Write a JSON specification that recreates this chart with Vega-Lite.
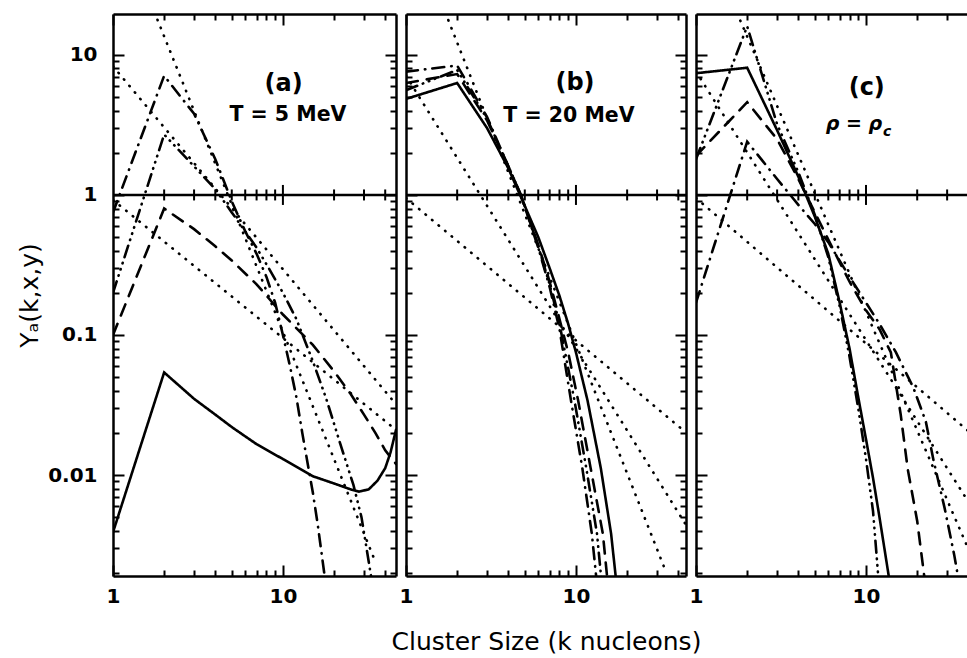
{
  "$schema": "https://vega.github.io/schema/vega-lite/v6.json",
  "background": "white",
  "padding": {"left": 17, "top": 13, "right": 0, "bottom": 0},
  "spacing": 10,
  "bounds": "flush",
  "align": "none",
  "config": {"view": {"stroke": null}, "axis": {"grid": false}},
  "datasets": {
    "one": [{"v": 1}],
    "mid": [{"k": 2, "m": 0}, {"k": 3, "m": 0}, {"k": 4, "m": 0}, {"k": 5, "m": 0}, {"k": 6, "m": 0}, {"k": 7, "m": 0}, {"k": 8, "m": 0}, {"k": 9, "m": 0}, {"k": 10, "m": 1}, {"k": 20, "m": 0}, {"k": 30, "m": 0}, {"k": 40, "m": 0}],
    "a": [
      {"s": "solid", "k": 1, "y": 0.0039}, {"s": "solid", "k": 2, "y": 0.054}, {"s": "solid", "k": 3, "y": 0.035}, {"s": "solid", "k": 4, "y": 0.027}, {"s": "solid", "k": 5, "y": 0.022}, {"s": "solid", "k": 7, "y": 0.0166}, {"s": "solid", "k": 10, "y": 0.013}, {"s": "solid", "k": 15, "y": 0.0098}, {"s": "solid", "k": 20, "y": 0.0087}, {"s": "solid", "k": 25, "y": 0.0079}, {"s": "solid", "k": 28, "y": 0.0076}, {"s": "solid", "k": 32, "y": 0.0079}, {"s": "solid", "k": 36, "y": 0.0091}, {"s": "solid", "k": 40, "y": 0.0112}, {"s": "solid", "k": 43, "y": 0.0145}, {"s": "solid", "k": 46.3, "y": 0.021},
      {"s": "dashed", "k": 1, "y": 0.1}, {"s": "dashed", "k": 2, "y": 0.8}, {"s": "dashed", "k": 3, "y": 0.57}, {"s": "dashed", "k": 4, "y": 0.43}, {"s": "dashed", "k": 5, "y": 0.34}, {"s": "dashed", "k": 7, "y": 0.23}, {"s": "dashed", "k": 10, "y": 0.14}, {"s": "dashed", "k": 15, "y": 0.085}, {"s": "dashed", "k": 20, "y": 0.055}, {"s": "dashed", "k": 25, "y": 0.038}, {"s": "dashed", "k": 30, "y": 0.027}, {"s": "dashed", "k": 35, "y": 0.02}, {"s": "dashed", "k": 40, "y": 0.015}, {"s": "dashed", "k": 46.3, "y": 0.012},
      {"s": "dashdot", "k": 1, "y": 0.75}, {"s": "dashdot", "k": 2, "y": 7.1}, {"s": "dashdot", "k": 3, "y": 3.8}, {"s": "dashdot", "k": 4, "y": 1.8}, {"s": "dashdot", "k": 5, "y": 0.9}, {"s": "dashdot", "k": 6, "y": 0.55}, {"s": "dashdot", "k": 7, "y": 0.38}, {"s": "dashdot", "k": 8, "y": 0.26}, {"s": "dashdot", "k": 9, "y": 0.17}, {"s": "dashdot", "k": 10, "y": 0.1}, {"s": "dashdot", "k": 11, "y": 0.06}, {"s": "dashdot", "k": 12, "y": 0.036}, {"s": "dashdot", "k": 13, "y": 0.02}, {"s": "dashdot", "k": 14, "y": 0.012}, {"s": "dashdot", "k": 15, "y": 0.0075}, {"s": "dashdot", "k": 16, "y": 0.0045}, {"s": "dashdot", "k": 17, "y": 0.0026}, {"s": "dashdot", "k": 17.6, "y": 0.0019},
      {"s": "dashdotdot", "k": 1, "y": 0.2}, {"s": "dashdotdot", "k": 2, "y": 2.7}, {"s": "dashdotdot", "k": 3, "y": 1.6}, {"s": "dashdotdot", "k": 4, "y": 1.1}, {"s": "dashdotdot", "k": 5, "y": 0.75}, {"s": "dashdotdot", "k": 6, "y": 0.55}, {"s": "dashdotdot", "k": 7, "y": 0.42}, {"s": "dashdotdot", "k": 8, "y": 0.32}, {"s": "dashdotdot", "k": 10, "y": 0.2}, {"s": "dashdotdot", "k": 12, "y": 0.13}, {"s": "dashdotdot", "k": 15, "y": 0.065}, {"s": "dashdotdot", "k": 18, "y": 0.035}, {"s": "dashdotdot", "k": 22, "y": 0.016}, {"s": "dashdotdot", "k": 26, "y": 0.0085}, {"s": "dashdotdot", "k": 29, "y": 0.005}, {"s": "dashdotdot", "k": 32, "y": 0.0024}, {"s": "dashdotdot", "k": 33, "y": 0.0019},
      {"s": "dot1", "k": 1.75, "y": 20.3}, {"s": "dot1", "k": 35, "y": 0.0024},
      {"s": "dot2", "k": 1, "y": 8.3}, {"s": "dot2", "k": 46.3, "y": 0.032},
      {"s": "dot3", "k": 1, "y": 0.92}, {"s": "dot3", "k": 46.3, "y": 0.021}
    ],
    "b": [
      {"s": "solid", "k": 1, "y": 4.85}, {"s": "solid", "k": 2, "y": 6.3}, {"s": "solid", "k": 3, "y": 3.0}, {"s": "solid", "k": 4, "y": 1.55}, {"s": "solid", "k": 4.74, "y": 0.97}, {"s": "solid", "k": 6, "y": 0.5}, {"s": "solid", "k": 7, "y": 0.3}, {"s": "solid", "k": 8, "y": 0.19}, {"s": "solid", "k": 9, "y": 0.12}, {"s": "solid", "k": 10, "y": 0.075}, {"s": "solid", "k": 11.7, "y": 0.034}, {"s": "solid", "k": 14, "y": 0.0112}, {"s": "solid", "k": 16.1, "y": 0.0038}, {"s": "solid", "k": 17.2, "y": 0.0018},
      {"s": "dashed", "k": 1, "y": 6.3}, {"s": "dashed", "k": 2, "y": 7.3}, {"s": "dashed", "k": 3, "y": 3.4}, {"s": "dashed", "k": 4, "y": 1.6}, {"s": "dashed", "k": 4.74, "y": 1.0}, {"s": "dashed", "k": 6, "y": 0.44}, {"s": "dashed", "k": 7, "y": 0.24}, {"s": "dashed", "k": 8, "y": 0.13}, {"s": "dashed", "k": 9, "y": 0.075}, {"s": "dashed", "k": 10.3, "y": 0.034}, {"s": "dashed", "k": 12.2, "y": 0.0112}, {"s": "dashed", "k": 14.4, "y": 0.0038}, {"s": "dashed", "k": 15.3, "y": 0.0018},
      {"s": "dashdot", "k": 1, "y": 7.6}, {"s": "dashdot", "k": 2, "y": 8.4}, {"s": "dashdot", "k": 3, "y": 3.6}, {"s": "dashdot", "k": 4, "y": 1.6}, {"s": "dashdot", "k": 4.74, "y": 1.0}, {"s": "dashdot", "k": 6, "y": 0.42}, {"s": "dashdot", "k": 7, "y": 0.22}, {"s": "dashdot", "k": 8, "y": 0.11}, {"s": "dashdot", "k": 9.35, "y": 0.034}, {"s": "dashdot", "k": 10.9, "y": 0.0112}, {"s": "dashdot", "k": 12.4, "y": 0.0038}, {"s": "dashdot", "k": 13.2, "y": 0.0018},
      {"s": "dashdotdot", "k": 1, "y": 5.6}, {"s": "dashdotdot", "k": 2, "y": 7.8}, {"s": "dashdotdot", "k": 3, "y": 3.5}, {"s": "dashdotdot", "k": 4, "y": 1.6}, {"s": "dashdotdot", "k": 4.74, "y": 1.0}, {"s": "dashdotdot", "k": 6, "y": 0.43}, {"s": "dashdotdot", "k": 7, "y": 0.23}, {"s": "dashdotdot", "k": 8, "y": 0.12}, {"s": "dashdotdot", "k": 9.8, "y": 0.034}, {"s": "dashdotdot", "k": 11.5, "y": 0.0112}, {"s": "dashdotdot", "k": 13.3, "y": 0.0038}, {"s": "dashdotdot", "k": 14.1, "y": 0.0018},
      {"s": "dot1", "k": 1, "y": 0.95}, {"s": "dot1", "k": 44.4, "y": 0.0201},
      {"s": "dot2", "k": 1, "y": 7.1}, {"s": "dot2", "k": 44.4, "y": 0.0044},
      {"s": "dot3", "k": 1.7, "y": 20.2}, {"s": "dot3", "k": 33, "y": 0.0022}
    ],
    "c": [
      {"s": "solid", "k": 1, "y": 7.4}, {"s": "solid", "k": 2, "y": 8.1}, {"s": "solid", "k": 3, "y": 2.9}, {"s": "solid", "k": 4, "y": 1.35}, {"s": "solid", "k": 5, "y": 0.7}, {"s": "solid", "k": 6, "y": 0.38}, {"s": "solid", "k": 7, "y": 0.17}, {"s": "solid", "k": 8, "y": 0.08}, {"s": "solid", "k": 9, "y": 0.036}, {"s": "solid", "k": 10, "y": 0.018}, {"s": "solid", "k": 11, "y": 0.0095}, {"s": "solid", "k": 12, "y": 0.005}, {"s": "solid", "k": 13, "y": 0.0027}, {"s": "solid", "k": 13.8, "y": 0.0017},
      {"s": "dashdotdot", "k": 1, "y": 1.8}, {"s": "dashdotdot", "k": 2, "y": 16}, {"s": "dashdotdot", "k": 3, "y": 3.2}, {"s": "dashdotdot", "k": 4, "y": 1.45}, {"s": "dashdotdot", "k": 5, "y": 0.72}, {"s": "dashdotdot", "k": 6, "y": 0.36}, {"s": "dashdotdot", "k": 7, "y": 0.16}, {"s": "dashdotdot", "k": 8, "y": 0.07}, {"s": "dashdotdot", "k": 9, "y": 0.03}, {"s": "dashdotdot", "k": 10, "y": 0.013}, {"s": "dashdotdot", "k": 11, "y": 0.0055}, {"s": "dashdotdot", "k": 11.8, "y": 0.0019},
      {"s": "dashed", "k": 1, "y": 1.9}, {"s": "dashed", "k": 2, "y": 4.6}, {"s": "dashed", "k": 3, "y": 2.5}, {"s": "dashed", "k": 4, "y": 1.3}, {"s": "dashed", "k": 5, "y": 0.75}, {"s": "dashed", "k": 6, "y": 0.48}, {"s": "dashed", "k": 7, "y": 0.33}, {"s": "dashed", "k": 8, "y": 0.24}, {"s": "dashed", "k": 10, "y": 0.15}, {"s": "dashed", "k": 12, "y": 0.11}, {"s": "dashed", "k": 14, "y": 0.075}, {"s": "dashed", "k": 16, "y": 0.027}, {"s": "dashed", "k": 17.6, "y": 0.011}, {"s": "dashed", "k": 20, "y": 0.0047}, {"s": "dashed", "k": 22, "y": 0.0019},
      {"s": "dashdot", "k": 1, "y": 0.17}, {"s": "dashdot", "k": 2, "y": 2.4}, {"s": "dashdot", "k": 3, "y": 1.3}, {"s": "dashdot", "k": 4, "y": 0.85}, {"s": "dashdot", "k": 5, "y": 0.62}, {"s": "dashdot", "k": 6, "y": 0.46}, {"s": "dashdot", "k": 8, "y": 0.26}, {"s": "dashdot", "k": 10, "y": 0.17}, {"s": "dashdot", "k": 12, "y": 0.12}, {"s": "dashdot", "k": 15, "y": 0.075}, {"s": "dashdot", "k": 19, "y": 0.042}, {"s": "dashdot", "k": 22.5, "y": 0.024}, {"s": "dashdot", "k": 25, "y": 0.0126}, {"s": "dashdot", "k": 29, "y": 0.0058}, {"s": "dashdot", "k": 33, "y": 0.0027}, {"s": "dashdot", "k": 35, "y": 0.0018},
      {"s": "dot1", "k": 1, "y": 0.95}, {"s": "dot1", "k": 39.8, "y": 0.0207},
      {"s": "dot2", "k": 1, "y": 7.6}, {"s": "dot2", "k": 39.8, "y": 0.0065},
      {"s": "dot3", "k": 1.74, "y": 20}, {"s": "dot3", "k": 39.8, "y": 0.003}
    ]
  },
  "hconcat": [
    {
      "width": 283, "height": 562,
      "layer": [
        {"data": {"name": "one"}, "mark": {"type": "rule", "color": "black", "strokeWidth": 2.4},
         "encoding": {"y": {"field": "v", "type": "quantitative", "scale": {"type": "log", "domain": [0.0019, 19.6], "nice": false}, "axis": null}}},
        {"data": {"name": "mid"}, "transform": [{"filter": "datum.m == 0"}],
         "mark": {"type": "tick", "orient": "vertical", "size": 11, "thickness": 2, "color": "black", "opacity": 1, "clip": true},
         "encoding": {"x": {"field": "k", "type": "quantitative", "scale": {"type": "log", "domain": [1, 46.3], "nice": false}, "axis": null}, "y": {"datum": 1, "type": "quantitative", "scale": {"type": "log", "domain": [0.0019, 19.6], "nice": false}, "axis": null}}},
        {"data": {"name": "mid"}, "transform": [{"filter": "datum.m == 1"}],
         "mark": {"type": "tick", "orient": "vertical", "size": 20, "thickness": 2, "color": "black", "opacity": 1, "clip": true},
         "encoding": {"x": {"field": "k", "type": "quantitative", "scale": {"type": "log", "domain": [1, 46.3], "nice": false}, "axis": null}, "y": {"datum": 1, "type": "quantitative", "scale": {"type": "log", "domain": [0.0019, 19.6], "nice": false}, "axis": null}}},
        {"data": {"name": "a"},
         "mark": {"type": "line", "clip": true, "color": "black", "strokeWidth": 2.6, "strokeCap": "round"},
         "encoding": {
           "x": {"field": "k", "type": "quantitative", "scale": {"type": "log", "domain": [1, 46.3], "nice": false},
                 "axis": {"orient": "bottom", "values": [1, 2, 3, 4, 5, 6, 7, 8, 9, 10, 20, 30, 40], "tickSize": {"condition": {"test": "datum.value===1||datum.value===10", "value": -11}, "value": -6}, "tickWidth": 2, "tickColor": "black", "domain": true, "domainWidth": 2.5, "domainColor": "black", "labelExpr": "datum.value===1?'1':datum.value===10?'10':''", "labelFont": "DejaVu Sans", "labelFontWeight": "bold", "labelFontSize": 20, "labelColor": "black", "labelPadding": 21, "labelFlush": false, "labelOverlap": false, "labelBound": false, "title": null}},
           "y": {"field": "y", "type": "quantitative", "scale": {"type": "log", "domain": [0.0019, 19.6], "nice": false},
                 "axis": {"orient": "left", "values": [0.002, 0.003, 0.004, 0.005, 0.006, 0.007, 0.008, 0.009, 0.01, 0.02, 0.03, 0.04, 0.05, 0.06, 0.07, 0.08, 0.09, 0.1, 0.2, 0.3, 0.4, 0.5, 0.6, 0.7, 0.8, 0.9, 1, 2, 3, 4, 5, 6, 7, 8, 9, 10], "tickSize": {"condition": {"test": "datum.value===0.01||datum.value===0.1||datum.value===1||datum.value===10", "value": -11}, "value": -6}, "tickWidth": 2, "tickColor": "black", "domain": true, "domainWidth": 2.5, "domainColor": "black", "labelExpr": "datum.value===10?'10':datum.value===1?'1':datum.value===0.1?'0.1':datum.value===0.01?'0.01':''", "labelFont": "DejaVu Sans", "labelFontWeight": "bold", "labelFontSize": 20, "labelColor": "black", "labelPadding": 27, "labelOverlap": false, "labelBound": false, "title": "Yₐ(k,x,y)", "titleFont": "DejaVu Sans", "titleFontSize": 25, "titleFontWeight": "normal", "titleColor": "black", "titlePadding": 5}},
           "strokeDash": {"field": "s", "type": "nominal", "legend": null, "scale": {"domain": ["solid", "dashed", "dashdot", "dashdotdot", "dot1", "dot2", "dot3"], "range": [[1, 0], [12, 9], [12, 7, 0.5, 7], [12, 6, 0.5, 6, 0.5, 6, 0.5, 6], [0.5, 8], [0.5, 8], [0.5, 8]]}},
           "detail": {"field": "s"}
         }},
        {"data": {"values": [{"k": 10.1, "y": 6.2, "t": "(a)"}]},
         "mark": {"type": "text", "font": "DejaVu Sans", "fontWeight": "bold", "fontSize": 24, "align": "center", "baseline": "middle", "color": "black"},
         "encoding": {
           "x": {"field": "k", "type": "quantitative", "scale": {"type": "log", "domain": [1, 46.3], "nice": false}, "axis": {"orient": "top", "values": [1, 2, 3, 4, 5, 6, 7, 8, 9, 10, 20, 30, 40], "tickSize": {"condition": {"test": "datum.value===1||datum.value===10", "value": -11}, "value": -6}, "tickWidth": 2, "tickColor": "black", "domain": true, "domainWidth": 2.5, "domainColor": "black", "labels": false, "title": null}},
           "y": {"field": "y", "type": "quantitative", "scale": {"type": "log", "domain": [0.0019, 19.6], "nice": false}, "axis": {"orient": "right", "values": [0.002, 0.003, 0.004, 0.005, 0.006, 0.007, 0.008, 0.009, 0.01, 0.02, 0.03, 0.04, 0.05, 0.06, 0.07, 0.08, 0.09, 0.1, 0.2, 0.3, 0.4, 0.5, 0.6, 0.7, 0.8, 0.9, 1, 2, 3, 4, 5, 6, 7, 8, 9, 10], "tickSize": {"condition": {"test": "datum.value===0.01||datum.value===0.1||datum.value===1||datum.value===10", "value": -11}, "value": -6}, "tickWidth": 2, "tickColor": "black", "domain": true, "domainWidth": 2.5, "domainColor": "black", "labels": false, "title": null}},
           "text": {"field": "t"}}},
        {"data": {"values": [{"k": 10.7, "y": 3.73, "t": "T = 5 MeV"}]},
         "mark": {"type": "text", "font": "DejaVu Sans", "fontWeight": "bold", "fontSize": 20.5, "align": "center", "baseline": "middle", "color": "black"},
         "encoding": {"x": {"field": "k", "type": "quantitative", "scale": {"type": "log", "domain": [1, 46.3], "nice": false}, "axis": null}, "y": {"field": "y", "type": "quantitative", "scale": {"type": "log", "domain": [0.0019, 19.6], "nice": false}, "axis": null}, "text": {"field": "t"}}}
      ],
      "resolve": {"axis": {"x": "independent", "y": "independent"}}
    },
    {
      "width": 280, "height": 562,
      "layer": [
        {"data": {"name": "one"}, "mark": {"type": "rule", "color": "black", "strokeWidth": 2.4},
         "encoding": {"y": {"field": "v", "type": "quantitative", "scale": {"type": "log", "domain": [0.0019, 19.6], "nice": false}, "axis": null}}},
        {"data": {"name": "mid"}, "transform": [{"filter": "datum.m == 0"}],
         "mark": {"type": "tick", "orient": "vertical", "size": 11, "thickness": 2, "color": "black", "opacity": 1, "clip": true},
         "encoding": {"x": {"field": "k", "type": "quantitative", "scale": {"type": "log", "domain": [1, 44.4], "nice": false}, "axis": null}, "y": {"datum": 1, "type": "quantitative", "scale": {"type": "log", "domain": [0.0019, 19.6], "nice": false}, "axis": null}}},
        {"data": {"name": "mid"}, "transform": [{"filter": "datum.m == 1"}],
         "mark": {"type": "tick", "orient": "vertical", "size": 20, "thickness": 2, "color": "black", "opacity": 1, "clip": true},
         "encoding": {"x": {"field": "k", "type": "quantitative", "scale": {"type": "log", "domain": [1, 44.4], "nice": false}, "axis": null}, "y": {"datum": 1, "type": "quantitative", "scale": {"type": "log", "domain": [0.0019, 19.6], "nice": false}, "axis": null}}},
        {"data": {"name": "b"},
         "mark": {"type": "line", "clip": true, "color": "black", "strokeWidth": 2.6, "strokeCap": "round"},
         "encoding": {
           "x": {"field": "k", "type": "quantitative", "scale": {"type": "log", "domain": [1, 44.4], "nice": false},
                 "axis": {"orient": "bottom", "values": [1, 2, 3, 4, 5, 6, 7, 8, 9, 10, 20, 30, 40], "tickSize": {"condition": {"test": "datum.value===1||datum.value===10", "value": -11}, "value": -6}, "tickWidth": 2, "tickColor": "black", "domain": true, "domainWidth": 2.5, "domainColor": "black", "labelExpr": "datum.value===1?'1':datum.value===10?'10':''", "labelFont": "DejaVu Sans", "labelFontWeight": "bold", "labelFontSize": 20, "labelColor": "black", "labelPadding": 21, "labelFlush": false, "labelOverlap": false, "labelBound": false, "title": "Cluster Size (k nucleons)", "titleFont": "DejaVu Sans", "titleFontSize": 25, "titleFontWeight": "normal", "titleColor": "black", "titlePadding": 18}},
           "y": {"field": "y", "type": "quantitative", "scale": {"type": "log", "domain": [0.0019, 19.6], "nice": false},
                 "axis": {"orient": "left", "values": [0.002, 0.003, 0.004, 0.005, 0.006, 0.007, 0.008, 0.009, 0.01, 0.02, 0.03, 0.04, 0.05, 0.06, 0.07, 0.08, 0.09, 0.1, 0.2, 0.3, 0.4, 0.5, 0.6, 0.7, 0.8, 0.9, 1, 2, 3, 4, 5, 6, 7, 8, 9, 10], "tickSize": {"condition": {"test": "datum.value===0.01||datum.value===0.1||datum.value===1||datum.value===10", "value": -11}, "value": -6}, "tickWidth": 2, "tickColor": "black", "domain": true, "domainWidth": 2.5, "domainColor": "black", "labels": false, "title": null}},
           "strokeDash": {"field": "s", "type": "nominal", "legend": null, "scale": {"domain": ["solid", "dashed", "dashdot", "dashdotdot", "dot1", "dot2", "dot3"], "range": [[1, 0], [12, 9], [12, 7, 0.5, 7], [12, 6, 0.5, 6, 0.5, 6, 0.5, 6], [0.5, 8], [0.5, 8], [0.5, 8]]}},
           "detail": {"field": "s"}
         }},
        {"data": {"values": [{"k": 9.87, "y": 6.3, "t": "(b)"}]},
         "mark": {"type": "text", "font": "DejaVu Sans", "fontWeight": "bold", "fontSize": 24, "align": "center", "baseline": "middle", "color": "black"},
         "encoding": {
           "x": {"field": "k", "type": "quantitative", "scale": {"type": "log", "domain": [1, 44.4], "nice": false}, "axis": {"orient": "top", "values": [1, 2, 3, 4, 5, 6, 7, 8, 9, 10, 20, 30, 40], "tickSize": {"condition": {"test": "datum.value===1||datum.value===10", "value": -11}, "value": -6}, "tickWidth": 2, "tickColor": "black", "domain": true, "domainWidth": 2.5, "domainColor": "black", "labels": false, "title": null}},
           "y": {"field": "y", "type": "quantitative", "scale": {"type": "log", "domain": [0.0019, 19.6], "nice": false}, "axis": {"orient": "right", "values": [0.002, 0.003, 0.004, 0.005, 0.006, 0.007, 0.008, 0.009, 0.01, 0.02, 0.03, 0.04, 0.05, 0.06, 0.07, 0.08, 0.09, 0.1, 0.2, 0.3, 0.4, 0.5, 0.6, 0.7, 0.8, 0.9, 1, 2, 3, 4, 5, 6, 7, 8, 9, 10], "tickSize": {"condition": {"test": "datum.value===0.01||datum.value===0.1||datum.value===1||datum.value===10", "value": -11}, "value": -6}, "tickWidth": 2, "tickColor": "black", "domain": true, "domainWidth": 2.5, "domainColor": "black", "labels": false, "title": null}},
           "text": {"field": "t"}}},
        {"data": {"values": [{"k": 9.1, "y": 3.66, "t": "T = 20 MeV"}]},
         "mark": {"type": "text", "font": "DejaVu Sans", "fontWeight": "bold", "fontSize": 20.5, "align": "center", "baseline": "middle", "color": "black"},
         "encoding": {"x": {"field": "k", "type": "quantitative", "scale": {"type": "log", "domain": [1, 44.4], "nice": false}, "axis": null}, "y": {"field": "y", "type": "quantitative", "scale": {"type": "log", "domain": [0.0019, 19.6], "nice": false}, "axis": null}, "text": {"field": "t"}}}
      ],
      "resolve": {"axis": {"x": "independent", "y": "independent"}}
    },
    {
      "width": 272, "height": 562,
      "layer": [
        {"data": {"name": "one"}, "mark": {"type": "rule", "color": "black", "strokeWidth": 2.4},
         "encoding": {"y": {"field": "v", "type": "quantitative", "scale": {"type": "log", "domain": [0.0019, 19.6], "nice": false}, "axis": null}}},
        {"data": {"name": "mid"}, "transform": [{"filter": "datum.m == 0 && datum.k < 39"}],
         "mark": {"type": "tick", "orient": "vertical", "size": 11, "thickness": 2, "color": "black", "opacity": 1, "clip": true},
         "encoding": {"x": {"field": "k", "type": "quantitative", "scale": {"type": "log", "domain": [1, 39.8], "nice": false}, "axis": null}, "y": {"datum": 1, "type": "quantitative", "scale": {"type": "log", "domain": [0.0019, 19.6], "nice": false}, "axis": null}}},
        {"data": {"name": "mid"}, "transform": [{"filter": "datum.m == 1"}],
         "mark": {"type": "tick", "orient": "vertical", "size": 20, "thickness": 2, "color": "black", "opacity": 1, "clip": true},
         "encoding": {"x": {"field": "k", "type": "quantitative", "scale": {"type": "log", "domain": [1, 39.8], "nice": false}, "axis": null}, "y": {"datum": 1, "type": "quantitative", "scale": {"type": "log", "domain": [0.0019, 19.6], "nice": false}, "axis": null}}},
        {"data": {"name": "c"},
         "mark": {"type": "line", "clip": true, "color": "black", "strokeWidth": 2.6, "strokeCap": "round"},
         "encoding": {
           "x": {"field": "k", "type": "quantitative", "scale": {"type": "log", "domain": [1, 39.8], "nice": false},
                 "axis": {"orient": "bottom", "values": [1, 2, 3, 4, 5, 6, 7, 8, 9, 10, 20, 30], "tickSize": {"condition": {"test": "datum.value===1||datum.value===10", "value": -11}, "value": -6}, "tickWidth": 2, "tickColor": "black", "domain": true, "domainWidth": 2.5, "domainColor": "black", "labelExpr": "datum.value===1?'1':datum.value===10?'10':''", "labelFont": "DejaVu Sans", "labelFontWeight": "bold", "labelFontSize": 20, "labelColor": "black", "labelPadding": 21, "labelFlush": false, "labelOverlap": false, "labelBound": false, "title": null}},
           "y": {"field": "y", "type": "quantitative", "scale": {"type": "log", "domain": [0.0019, 19.6], "nice": false},
                 "axis": {"orient": "left", "values": [0.002, 0.003, 0.004, 0.005, 0.006, 0.007, 0.008, 0.009, 0.01, 0.02, 0.03, 0.04, 0.05, 0.06, 0.07, 0.08, 0.09, 0.1, 0.2, 0.3, 0.4, 0.5, 0.6, 0.7, 0.8, 0.9, 1, 2, 3, 4, 5, 6, 7, 8, 9, 10], "tickSize": {"condition": {"test": "datum.value===0.01||datum.value===0.1||datum.value===1||datum.value===10", "value": -11}, "value": -6}, "tickWidth": 2, "tickColor": "black", "domain": true, "domainWidth": 2.5, "domainColor": "black", "labels": false, "title": null}},
           "strokeDash": {"field": "s", "type": "nominal", "legend": null, "scale": {"domain": ["solid", "dashed", "dashdot", "dashdotdot", "dot1", "dot2", "dot3"], "range": [[1, 0], [12, 9], [12, 7, 0.5, 7], [12, 6, 0.5, 6, 0.5, 6, 0.5, 6], [0.5, 8], [0.5, 8], [0.5, 8]]}},
           "detail": {"field": "s"}
         }},
        {"data": {"values": [{"k": 10.1, "y": 5.8, "t": "(c)"}]},
         "mark": {"type": "text", "font": "DejaVu Sans", "fontWeight": "bold", "fontSize": 24, "align": "center", "baseline": "middle", "color": "black"},
         "encoding": {
           "x": {"field": "k", "type": "quantitative", "scale": {"type": "log", "domain": [1, 39.8], "nice": false}, "axis": {"orient": "top", "values": [1, 2, 3, 4, 5, 6, 7, 8, 9, 10, 20, 30], "tickSize": {"condition": {"test": "datum.value===1||datum.value===10", "value": -11}, "value": -6}, "tickWidth": 2, "tickColor": "black", "domain": true, "domainWidth": 2.5, "domainColor": "black", "labels": false, "title": null}},
           "y": {"field": "y", "type": "quantitative", "scale": {"type": "log", "domain": [0.0019, 19.6], "nice": false}, "axis": null},
           "text": {"field": "t"}}},
        {"data": {"values": [{"k": 8.5, "y": 3.2, "t": "ρ = ρ"}]},
         "mark": {"type": "text", "font": "DejaVu Sans", "fontWeight": "bold", "fontStyle": "italic", "fontSize": 19, "align": "center", "baseline": "middle", "color": "black"},
         "encoding": {"x": {"field": "k", "type": "quantitative", "scale": {"type": "log", "domain": [1, 39.8], "nice": false}, "axis": null}, "y": {"field": "y", "type": "quantitative", "scale": {"type": "log", "domain": [0.0019, 19.6], "nice": false}, "axis": null}, "text": {"field": "t"}}},
        {"data": {"values": [{"k": 13.3, "y": 2.8, "t": "c"}]},
         "mark": {"type": "text", "font": "DejaVu Sans", "fontWeight": "bold", "fontStyle": "italic", "fontSize": 14, "align": "center", "baseline": "middle", "color": "black"},
         "encoding": {"x": {"field": "k", "type": "quantitative", "scale": {"type": "log", "domain": [1, 39.8], "nice": false}, "axis": null}, "y": {"field": "y", "type": "quantitative", "scale": {"type": "log", "domain": [0.0019, 19.6], "nice": false}, "axis": null}, "text": {"field": "t"}}}
      ],
      "resolve": {"axis": {"x": "independent", "y": "independent"}}
    }
  ]
}
